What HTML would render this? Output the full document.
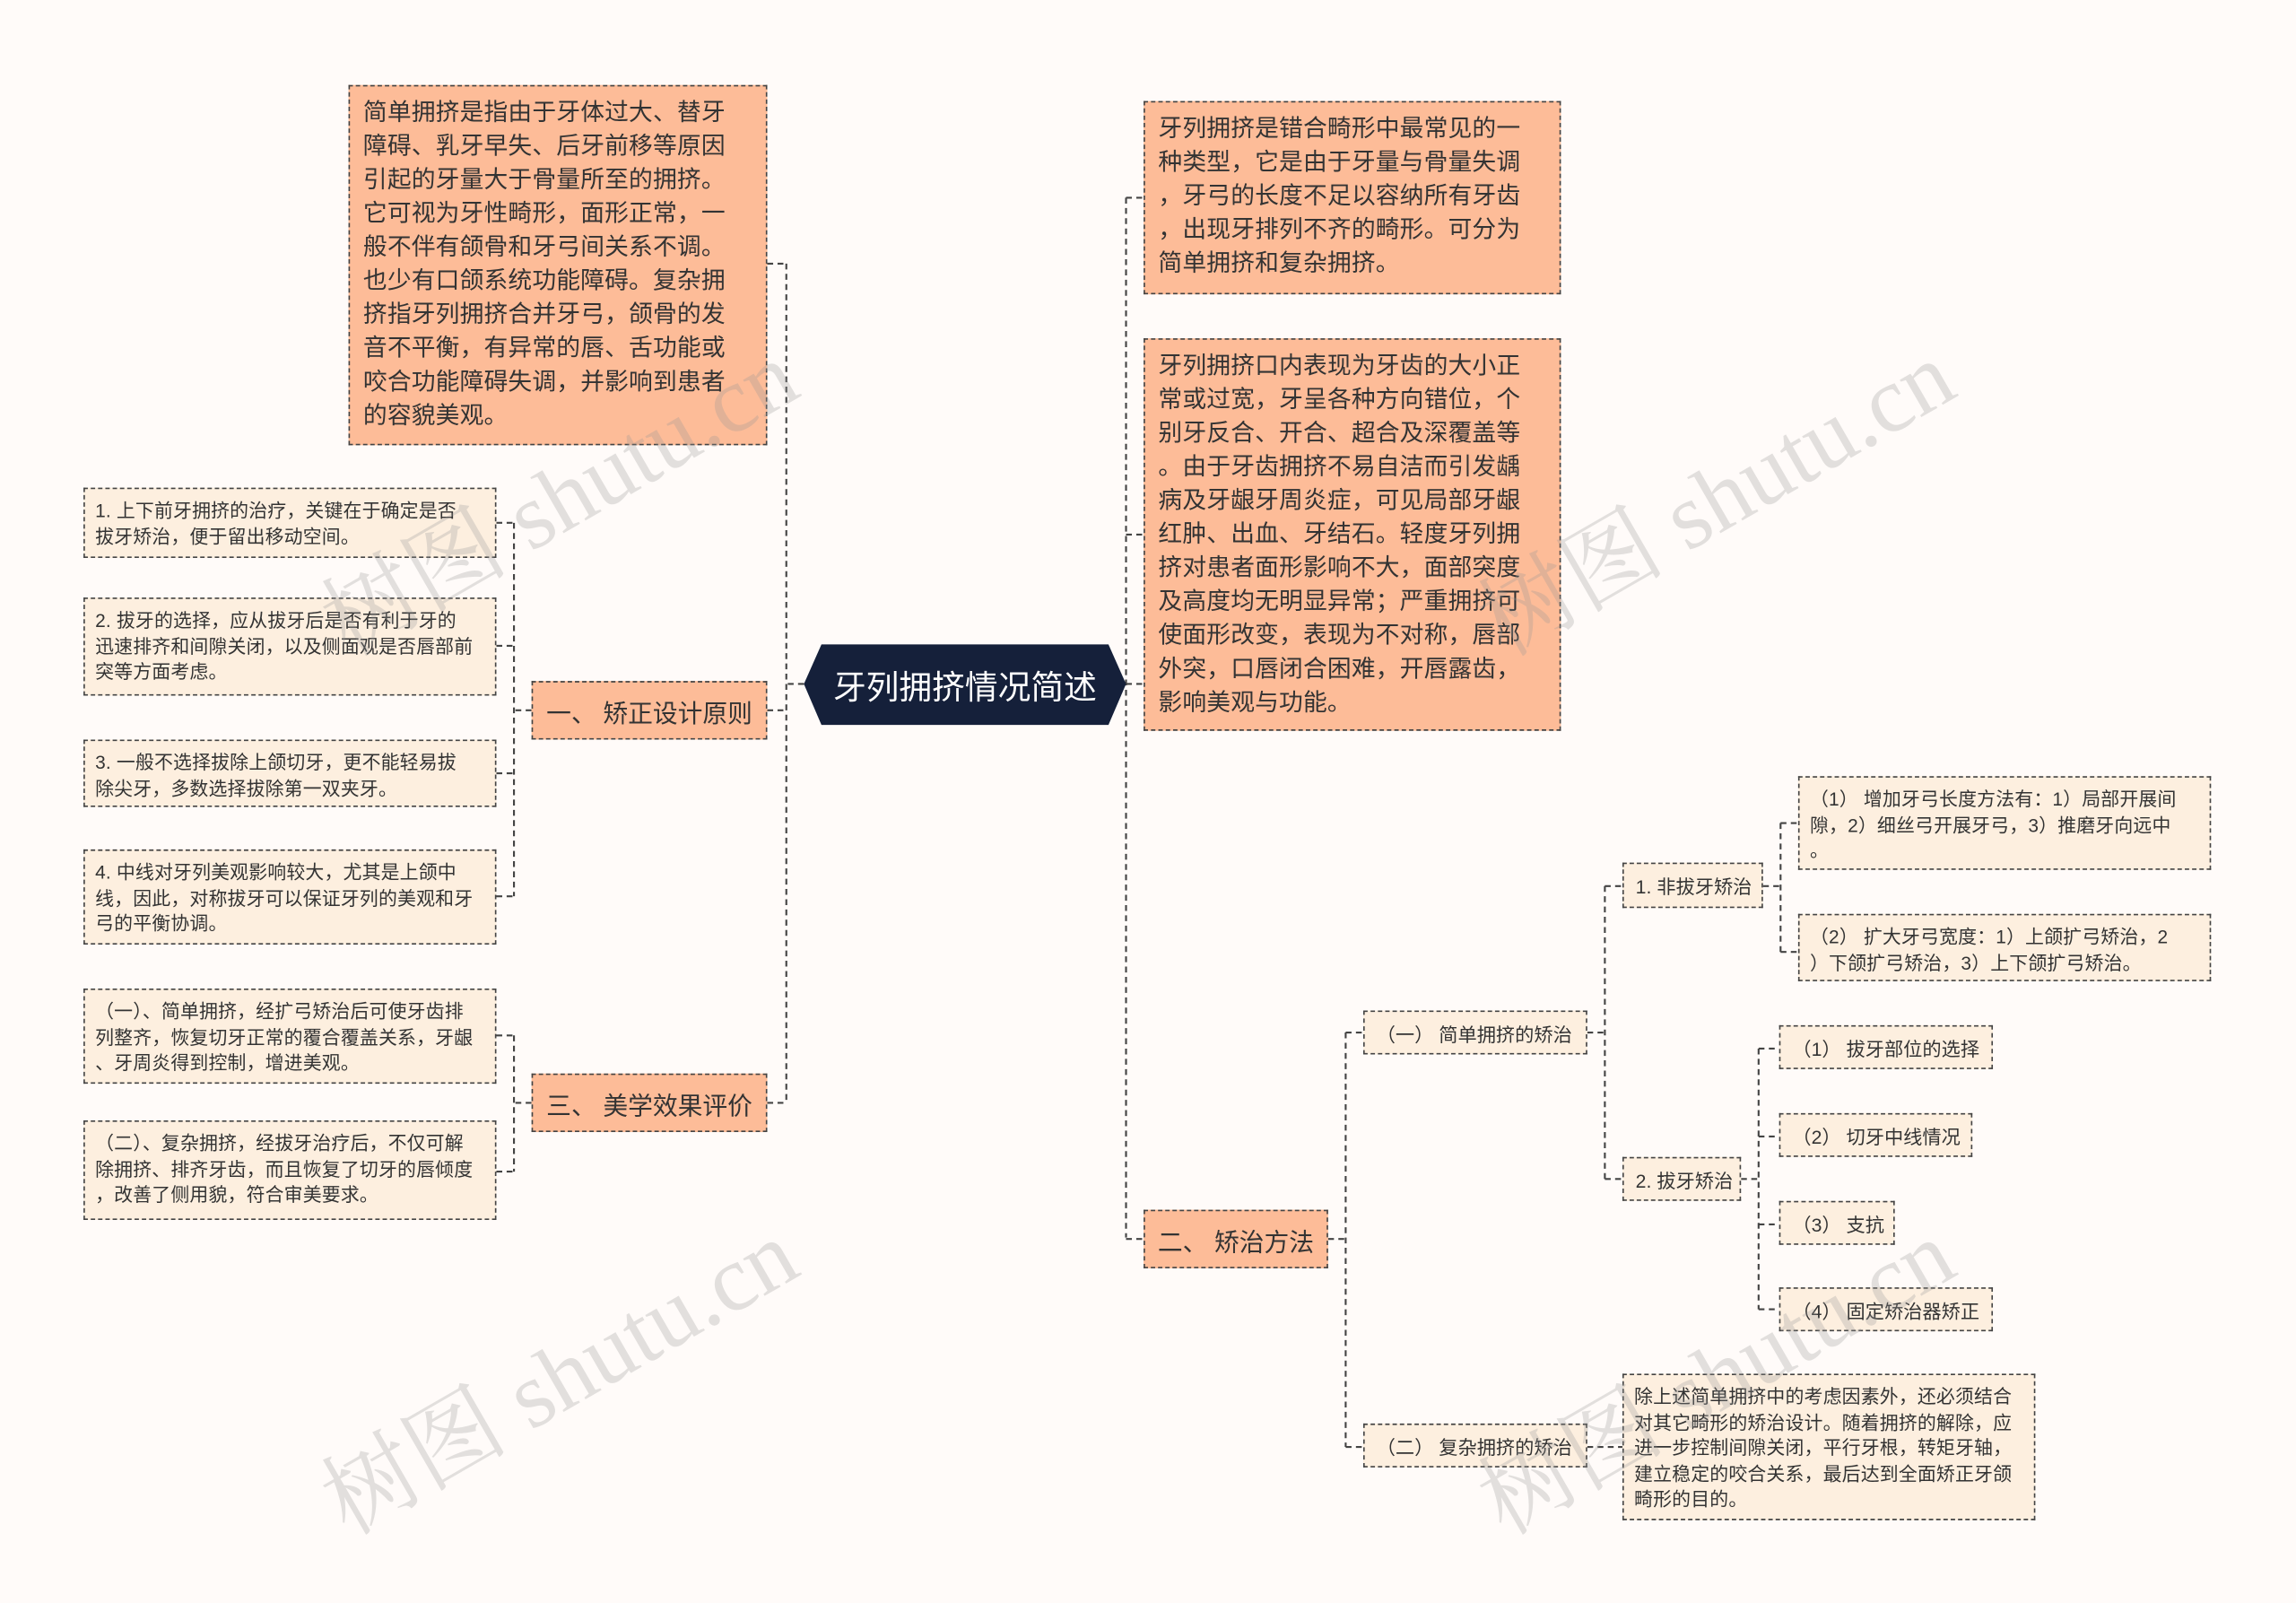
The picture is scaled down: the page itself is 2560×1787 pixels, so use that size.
<!DOCTYPE html>
<html><head><meta charset="utf-8"><style>
html,body{margin:0;padding:0;background:#fffbf9;}
#wrap{position:relative;width:2560px;height:1787px;overflow:hidden;background:#fffbf9;}
#s{position:absolute;left:0;top:0;width:1568px;height:1095px;transform:scale(1.63265);transform-origin:0 0;font-family:"Liberation Sans","Noto Sans CJK SC",sans-serif;color:#333;}
.b{position:absolute;box-sizing:border-box;border:1px dashed #444;}
.p{background:#fdbc98;font-size:16.4px;line-height:23px;padding:7px 9px;letter-spacing:0.1px;}
.l{background:#fdefdf;font-size:12.8px;line-height:17.5px;padding:6px 7px;letter-spacing:0.1px;}
.m{background:#fdbc98;font-size:17px;display:flex;align-items:center;justify-content:center;}
.ls{background:#fdefdf;font-size:13px;display:flex;align-items:center;padding-left:8px;}
svg{position:absolute;left:0;top:0;}
.wm{position:absolute;font-family:"Liberation Serif","Noto Serif CJK SC",serif;font-size:64px;color:rgba(150,150,150,0.28);transform:rotate(-30deg);white-space:nowrap;}
</style></head><body><div id="wrap"><div id="s">
<svg width="1568" height="1095" fill="none" stroke="#444" stroke-width="1.3" stroke-dasharray="4,3">
<path d="M549 467H537M537 180V753M524 180H537M524 485H537M524 753H537"/>
<path d="M363 485H351M351 357V612M339 357H351M339 441H351M339 528H351M339 612H351"/>
<path d="M363 753H351M351 707V800M339 707H351M339 800H351"/>
<path d="M769 467H781M769 135V845M769 135H781M769 365H781M769 846H781"/>
<path d="M907 846H919M919 705V988M919 705H931M919 988H931"/>
<path d="M1084 705H1096M1096 605V805M1096 605H1108M1096 805H1108"/>
<path d="M1204 605H1216M1216 562V650M1216 562H1228M1216 650H1228"/>
<path d="M1189 805H1201M1201 716V894M1201 716H1215M1201 776H1215M1201 836H1215M1201 894H1215"/>
<path d="M1084 988H1108"/>
</svg>
<svg width="1568" height="1095"><polygon points="561,440 757,440 769,467 757,495 561,495 549,467" fill="#15203a"/></svg>
<div style="position:absolute;left:549px;top:440px;width:220px;height:55px;display:flex;align-items:center;justify-content:center;color:#fff;font-size:22.5px;">牙列拥挤情况简述</div>

<div class="b p" style="left:238px;top:58px;width:286px;height:246px;">简单拥挤是指由于牙体过大、替牙<br>障碍、乳牙早失、后牙前移等原因<br>引起的牙量大于骨量所至的拥挤。<br>它可视为牙性畸形，面形正常，一<br>般不伴有颌骨和牙弓间关系不调。<br>也少有口颌系统功能障碍。复杂拥<br>挤指牙列拥挤合并牙弓，颌骨的发<br>音不平衡，有异常的唇、舌功能或<br>咬合功能障碍失调，并影响到患者<br>的容貌美观。</div>
<div class="b m" style="left:363px;top:465px;width:161px;height:40px;">一、 矫正设计原则</div>
<div class="b m" style="left:363px;top:733px;width:161px;height:40px;">三、 美学效果评价</div>
<div class="b l" style="left:57px;top:333px;width:282px;height:48px;">1. 上下前牙拥挤的治疗，关键在于确定是否<br>拔牙矫治，便于留出移动空间。</div>
<div class="b l" style="left:57px;top:408px;width:282px;height:67px;">2. 拔牙的选择，应从拔牙后是否有利于牙的<br>迅速排齐和间隙关闭，以及侧面观是否唇部前<br>突等方面考虑。</div>
<div class="b l" style="left:57px;top:505px;width:282px;height:46px;">3. 一般不选择拔除上颌切牙，更不能轻易拔<br>除尖牙，多数选择拔除第一双夹牙。</div>
<div class="b l" style="left:57px;top:580px;width:282px;height:65px;">4. 中线对牙列美观影响较大，尤其是上颌中<br>线，因此，对称拔牙可以保证牙列的美观和牙<br>弓的平衡协调。</div>
<div class="b l" style="left:57px;top:675px;width:282px;height:65px;">（一）、简单拥挤，经扩弓矫治后可使牙齿排<br>列整齐，恢复切牙正常的覆合覆盖关系，牙龈<br>、牙周炎得到控制，增进美观。</div>
<div class="b l" style="left:57px;top:765px;width:282px;height:68px;">（二）、复杂拥挤，经拔牙治疗后，不仅可解<br>除拥挤、排齐牙齿，而且恢复了切牙的唇倾度<br>，改善了侧用貌，符合审美要求。</div>

<div class="b p" style="left:781px;top:69px;width:285px;height:132px;">牙列拥挤是错合畸形中最常见的一<br>种类型，它是由于牙量与骨量失调<br>，牙弓的长度不足以容纳所有牙齿<br>，出现牙排列不齐的畸形。可分为<br>简单拥挤和复杂拥挤。</div>
<div class="b p" style="left:781px;top:231px;width:285px;height:268px;">牙列拥挤口内表现为牙齿的大小正<br>常或过宽，牙呈各种方向错位，个<br>别牙反合、开合、超合及深覆盖等<br>。由于牙齿拥挤不易自洁而引发龋<br>病及牙龈牙周炎症，可见局部牙龈<br>红肿、出血、牙结石。轻度牙列拥<br>挤对患者面形影响不大，面部突度<br>及高度均无明显异常；严重拥挤可<br>使面形改变，表现为不对称，唇部<br>外突，口唇闭合困难，开唇露齿，<br>影响美观与功能。</div>
<div class="b m" style="left:781px;top:826px;width:126px;height:40px;">二、 矫治方法</div>
<div class="b ls" style="left:931px;top:690px;width:153px;height:30px;">（一） 简单拥挤的矫治</div>
<div class="b ls" style="left:931px;top:972px;width:153px;height:30px;">（二） 复杂拥挤的矫治</div>
<div class="b ls" style="left:1108px;top:589px;width:96px;height:31px;">1. 非拔牙矫治</div>
<div class="b ls" style="left:1108px;top:790px;width:81px;height:30px;">2. 拔牙矫治</div>
<div class="b l" style="left:1228px;top:530px;width:282px;height:64px;">（1） 增加牙弓长度方法有：1）局部开展间<br>隙，2）细丝弓开展牙弓，3）推磨牙向远中<br>。</div>
<div class="b l" style="left:1228px;top:624px;width:282px;height:46px;">（2） 扩大牙弓宽度：1）上颌扩弓矫治，2<br>）下颌扩弓矫治，3）上下颌扩弓矫治。</div>
<div class="b ls" style="left:1215px;top:700px;width:146px;height:30px;">（1） 拔牙部位的选择</div>
<div class="b ls" style="left:1215px;top:760px;width:132px;height:30px;">（2） 切牙中线情况</div>
<div class="b ls" style="left:1215px;top:820px;width:79px;height:30px;">（3） 支抗</div>
<div class="b ls" style="left:1215px;top:879px;width:146px;height:30px;">（4） 固定矫治器矫正</div>
<div class="b l" style="left:1108px;top:938px;width:282px;height:100px;">除上述简单拥挤中的考虑因素外，还必须结合<br>对其它畸形的矫治设计。随着拥挤的解除，应<br>进一步控制间隙关闭，平行牙根，转矩牙轴，<br>建立稳定的咬合关系，最后达到全面矫正牙颌<br>畸形的目的。</div>

<div class="wm" style="left:200px;top:290px;">树图 shutu.cn</div>
<div class="wm" style="left:200px;top:890px;">树图 shutu.cn</div>
<div class="wm" style="left:990px;top:290px;">树图 shutu.cn</div>
<div class="wm" style="left:990px;top:890px;">树图 shutu.cn</div>
</div></div></body></html>
